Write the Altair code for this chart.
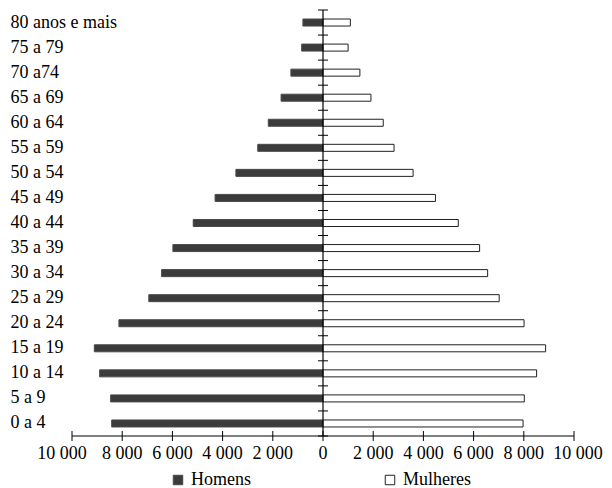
import altair as alt
import pandas as pd

categorias = ["80 anos e mais", "75 a 79", "70 a74", "65 a 69", "60 a 64", "55 a 59",
              "50 a 54", "45 a 49", "40 a 44", "35 a 39", "30 a 34", "25 a 29",
              "20 a 24", "15 a 19", "10 a 14", "5 a 9", "0 a 4"]
homens = [800, 850, 1280, 1670, 2180, 2600, 3470, 4300, 5170, 5980, 6430, 6940,
          8130, 9110, 8900, 8460, 8420]
mulheres = [1090, 1000, 1470, 1910, 2400, 2830, 3590, 4480, 5390, 6240, 6560, 7020,
            8010, 8870, 8510, 8020, 7970]
x_ticks = [-10000, -8000, -6000, -4000, -2000, 0, 2000, 4000, 6000, 8000, 10000]
x_tick_labels = ["10 000", "8 000", "6 000", "4 000", "2 000", "0",
                 "2 000", "4 000", "6 000", "8 000", "10 000"]
series = ["Homens", "Mulheres"]

FONT = "Liberation Serif"
W, H = 502, 426
N = len(categorias)

rows = []
for c, h, m in zip(categorias, homens, mulheres):
    rows.append({"grupo": c, "sexo": "Homens", "valor": -h})
    rows.append({"grupo": c, "sexo": "Mulheres", "valor": m})
df = pd.DataFrame(rows)

fill_scale = alt.Scale(domain=series, range=["#3b3b3b", "#ffffff"])
stroke_scale = alt.Scale(domain=series, range=["#4a4a4a", "#222222"])
x_scale = alt.Scale(domain=[x_ticks[0], x_ticks[-1]], nice=False)

bars = alt.Chart(df).mark_bar(strokeWidth=1).encode(
    y=alt.Y("grupo:N", sort=categorias,
            scale=alt.Scale(paddingInner=0.72, paddingOuter=0.36),
            axis=alt.Axis(title=None, orient="left", domain=False, ticks=False,
                          labelAlign="left", labelPadding=62, labelFont=FONT,
                          labelFontSize=18, labelColor="black", labelBaseline="middle")),
    x=alt.X("valor:Q", scale=x_scale, axis=None),
    fill=alt.Fill("sexo:N", scale=fill_scale,
                  legend=alt.Legend(title=None, orient="none", legendX=97, legendY=461,
                                    direction="horizontal", symbolType="square",
                                    symbolSize=90, symbolStrokeWidth=1,
                                    labelFont=FONT, labelFontSize=18, labelColor="black",
                                    columnPadding=130, labelOffset=4)),
    stroke=alt.Stroke("sexo:N", scale=stroke_scale, legend=None),
)

# centre axis: vertical line and ticks at group boundaries
centre_df = pd.DataFrame({"x": [0], "b0": [0], "b1": [N]})
centre = alt.Chart(centre_df).mark_rule(color="black", strokeWidth=1.2).encode(
    x=alt.X("x:Q", scale=x_scale, axis=None),
    y=alt.Y("b0:Q", scale=alt.Scale(domain=[0, N], nice=False), axis=None),
    y2="b1:Q",
)
bound_df = pd.DataFrame({"b": list(range(N + 1)), "l": -200, "r": 200})
bounds = alt.Chart(bound_df).mark_rule(color="black", strokeWidth=1).encode(
    x=alt.X("l:Q", scale=x_scale, axis=None), x2="r:Q",
    y=alt.Y("b:Q", scale=alt.Scale(domain=[0, N], nice=False), axis=None),
)

# bottom axis: line, crossing ticks and labels
axis_df = pd.DataFrame({"a": [x_ticks[0]], "b": [x_ticks[-1]]})
axis_line = alt.Chart(axis_df).mark_rule(color="black", strokeWidth=1).encode(
    x=alt.X("a:Q", scale=x_scale, axis=None), x2="b:Q", y=alt.value(H),
)
tick_df = pd.DataFrame({"v": x_ticks, "t": x_tick_labels})
ticks = alt.Chart(tick_df).mark_rule(color="black", strokeWidth=1).encode(
    x=alt.X("v:Q", scale=x_scale, axis=None), y=alt.value(H - 5), y2=alt.value(H + 5),
)
lab_mid = alt.Chart(tick_df.iloc[1:-1]).mark_text(
    font=FONT, fontSize=18, color="black", baseline="middle", align="center"
).encode(x=alt.X("v:Q", scale=x_scale, axis=None), y=alt.value(H + 18), text="t:N")
lab_left = alt.Chart(tick_df.iloc[:1]).mark_text(
    font=FONT, fontSize=18, color="black", baseline="middle", align="center", dx=-10
).encode(x=alt.X("v:Q", scale=x_scale, axis=None), y=alt.value(H + 18), text="t:N")
lab_right = alt.Chart(tick_df.iloc[-1:]).mark_text(
    font=FONT, fontSize=18, color="black", baseline="middle", align="center", dx=4
).encode(x=alt.X("v:Q", scale=x_scale, axis=None), y=alt.value(H + 18), text="t:N")

chart = alt.layer(bars, centre, bounds, axis_line, ticks,
                  lab_mid, lab_left, lab_right).resolve_scale(
    y="independent"
).properties(
    width=W, height=H,
    background="white",
    autosize=alt.AutoSizeParams(type="none"),
    padding={"left": 64, "top": 2, "right": 30, "bottom": 52},
).configure_view(stroke="transparent", strokeWidth=0)

chart.save("out.html", embed_options={"renderer": "svg", "actions": False})
